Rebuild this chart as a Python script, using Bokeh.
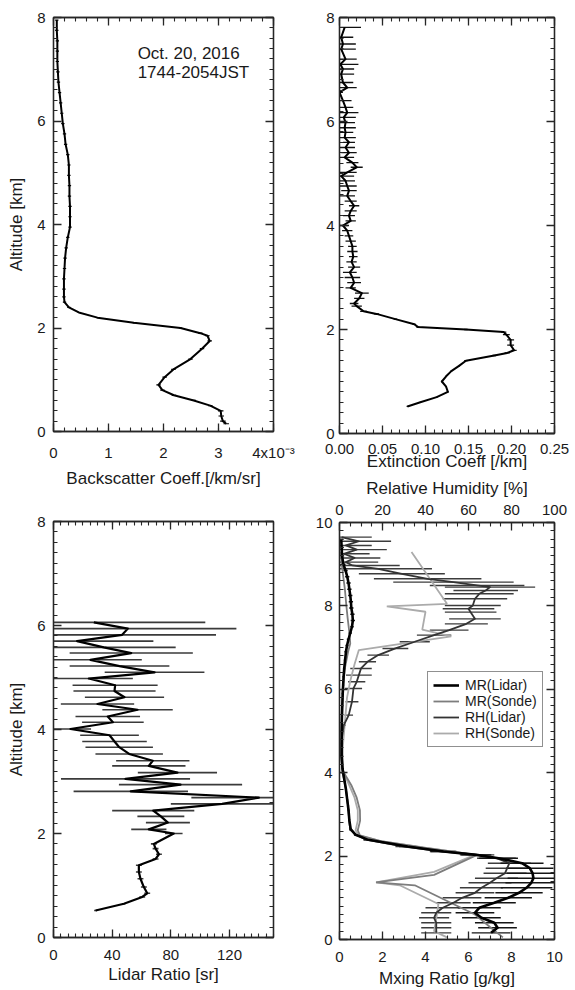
import numpy as np
from bokeh.plotting import figure
from bokeh.models import (Range1d, LinearAxis, FixedTicker, CustomJSTickFormatter,
                          CustomLabelingPolicy, Label, Legend, LegendItem,
                          ColumnDataSource)
from bokeh.layouts import row, column
from bokeh.embed import file_html
from bokeh.resources import INLINE

# ---------------- data ----------------
# Panel 1: backscatter coefficient (x 1e-3 /km/sr)
bsc_alt = [7.95, 7.75, 7.55, 7.35, 7.15, 6.95, 6.75, 6.55, 6.35, 6.15,
           5.95, 5.75, 5.55, 5.35, 5.15, 4.95, 4.75, 4.55, 4.35, 4.15,
           3.95, 3.75, 3.55, 3.35, 3.15, 2.95, 2.75, 2.6, 2.5, 2.4,
           2.3, 2.2, 2.1, 2.0, 1.9, 1.85, 1.75, 1.6, 1.4, 1.2,
           1.05, 0.9, 0.8, 0.7, 0.6, 0.5, 0.4, 0.3, 0.2, 0.15]
bsc_val = [0.06, 0.06, 0.07, 0.07, 0.07, 0.08, 0.09, 0.11, 0.13, 0.15,
           0.17, 0.20, 0.22, 0.26, 0.28, 0.28, 0.29, 0.29, 0.30, 0.30,
           0.30, 0.26, 0.23, 0.21, 0.20, 0.19, 0.19, 0.19, 0.20, 0.28,
           0.46, 0.80, 1.46, 2.31, 2.67, 2.80, 2.84, 2.70, 2.49, 2.18,
           2.02, 1.91, 1.98, 2.19, 2.55, 2.85, 3.04, 3.05, 3.08, 3.14]
bsc_err = [0.03, 0.03, 0.03, 0.03, 0.03, 0.03, 0.03, 0.03, 0.03, 0.03,
           0.03, 0.03, 0.03, 0.03, 0.03, 0.03, 0.03, 0.03, 0.03, 0.03,
           0.03, 0.03, 0.03, 0.03, 0.03, 0.03, 0.03, 0.03, 0.03, 0.03,
           0.02, 0.02, 0.02, 0.03, 0.04, 0.04, 0.04, 0.04, 0.04, 0.04,
           0.04, 0.04, 0.04, 0.04, 0.04, 0.04, 0.05, 0.05, 0.05, 0.05]

# Panel 2: extinction coefficient (/km)
ext_alt = [7.81, 7.62, 7.49, 7.39, 7.20, 7.10, 7.01, 6.91, 6.75, 6.65,
           6.56, 6.40, 6.27, 6.17, 6.08, 5.98, 5.88, 5.79, 5.69, 5.60,
           5.50, 5.40, 5.31, 5.21, 5.12, 5.02, 4.95, 4.86, 4.76, 4.67,
           4.57, 4.47, 4.38, 4.28, 4.19, 4.09, 4.00, 3.90, 3.80, 3.70,
           3.60, 3.50, 3.40, 3.30, 3.20, 3.10, 3.00, 2.90, 2.80, 2.70,
           2.60, 2.50, 2.45, 2.35, 2.30, 2.20, 2.10, 2.05, 2.00, 1.95,
           1.90, 1.80, 1.70, 1.60, 1.55, 1.50, 1.40, 1.30, 1.20, 1.10,
           1.00, 0.90, 0.80, 0.70, 0.60, 0.52]
ext_val = [0.006, 0.002, 0.004, 0.002, 0.007, 0.001, 0.004, 0.002, 0.004, 0.009,
           0.000, 0.004, 0.007, 0.009, 0.005, 0.007, 0.006, 0.007, 0.006, 0.011,
           0.007, 0.011, 0.006, 0.015, 0.020, 0.009, 0.002, 0.007, 0.009, 0.011,
           0.009, 0.013, 0.017, 0.013, 0.011, 0.013, 0.004, 0.009, 0.011, 0.013,
           0.015, 0.015, 0.016, 0.014, 0.017, 0.012, 0.015, 0.017, 0.013, 0.026,
           0.023, 0.017, 0.020, 0.028, 0.043, 0.065, 0.087, 0.091, 0.147, 0.191,
           0.194, 0.199, 0.199, 0.203, 0.195, 0.180, 0.147, 0.139, 0.130, 0.124,
           0.119, 0.124, 0.126, 0.113, 0.094, 0.079]
ext_err = [0.019, 0.014, 0.015, 0.017, 0.013, 0.021, 0.013, 0.015, 0.012, 0.011,
           0.004, 0.010, 0.009, 0.013, 0.014, 0.011, 0.013, 0.009, 0.013, 0.007,
           0.011, 0.009, 0.011, 0.007, 0.007, 0.011, 0.015, 0.011, 0.011, 0.009,
           0.009, 0.007, 0.006, 0.007, 0.007, 0.006, 0.007, 0.006, 0.005, 0.006,
           0.005, 0.006, 0.005, 0.006, 0.007, 0.008, 0.009, 0.008, 0.006, 0.008,
           0.006, 0.005, 0.006, 0.004, 0.003, 0.002, 0.002, 0.002, 0.002, 0.003,
           0.004, 0.004, 0.004, 0.003, 0.003, 0.002, 0.002, 0.001, 0.001, 0.001,
           0.001, 0.001, 0.001, 0.001, 0.001, 0.001]

# Panel 3: lidar ratio (sr)
lr_alt = [6.06, 5.94, 5.82, 5.70, 5.58, 5.47, 5.34, 5.22, 5.10, 4.98,
          4.85, 4.74, 4.62, 4.49, 4.38, 4.25, 4.14, 4.01, 3.89, 3.77,
          3.66, 3.53, 3.40, 3.30, 3.17, 3.05, 2.94, 2.81, 2.69, 2.57,
          2.44, 2.33, 2.21, 2.08, 2.00, 1.80, 1.71, 1.60, 1.51, 1.39,
          1.26, 1.13, 0.97, 0.85, 0.78, 0.65, 0.52]
lr_val = [27.5, 50.7, 46.8, 16.1, 34.3, 53.0, 25.2, 45.0, 68.9, 24.1,
          42.0, 41.6, 48.4, 30.0, 57.3, 37.0, 40.5, 11.6, 38.2, 41.6,
          44.8, 51.6, 67.7, 65.0, 84.5, 49.1, 86.6, 52.7, 140.0, 115.0,
          68.0, 73.2, 78.0, 65.0, 82.0, 68.4, 69.6, 71.9, 69.6, 58.2,
          58.2, 59.3, 61.6, 63.9, 60.5, 48.0, 28.7]
lr_err = [76, 74, 64, 52, 49, 42, 35, 34, 34, 30,
          29, 28, 27, 25, 24, 22, 21, 14, 20, 22,
          23, 23, 25, 25, 27, 44, 42, 39, 46, 35,
          28, 16, 15, 12, 6, 2, 2, 2, 2, 2,
          2, 2, 2, 2, 2, 1, 1]

# Panel 4: mixing ratio (g/kg) and relative humidity (%)
mrl_alt = [9.60, 9.40, 9.20, 9.00, 8.85, 8.70, 8.55, 8.40, 8.25, 8.10,
           7.95, 7.80, 7.65, 7.50, 7.35, 7.20, 7.05, 6.90, 6.70, 6.50,
           6.30, 6.10, 5.90, 5.60, 5.30, 5.00, 4.70, 4.40, 4.10, 3.85,
           3.60, 3.35, 3.10, 2.85, 2.65, 2.51, 2.39, 2.23, 2.11, 2.03,
           1.95, 1.83, 1.71, 1.59, 1.47, 1.36, 1.24, 1.12, 1.00, 0.88,
           0.76, 0.64, 0.52, 0.40, 0.28, 0.16]
mrl_val = [0.08, 0.10, 0.12, 0.18, 0.28, 0.36, 0.42, 0.46, 0.50, 0.53,
           0.55, 0.60, 0.62, 0.58, 0.50, 0.42, 0.35, 0.30, 0.26, 0.22,
           0.19, 0.17, 0.15, 0.13, 0.11, 0.10, 0.10, 0.10, 0.14, 0.22,
           0.30, 0.36, 0.42, 0.46, 0.52, 0.75, 1.34, 3.17, 4.84, 6.36,
           7.40, 8.49, 8.85, 8.98, 9.02, 8.92, 8.70, 8.35, 7.85, 7.20,
           6.50, 6.30, 6.60, 7.20, 7.35, 7.05]
mrl_err = [0.10, 0.10, 0.10, 0.10, 0.10, 0.10, 0.10, 0.10, 0.10, 0.10,
           0.10, 0.10, 0.10, 0.08, 0.08, 0.08, 0.07, 0.07, 0.06, 0.06,
           0.05, 0.05, 0.05, 0.04, 0.04, 0.04, 0.04, 0.04, 0.04, 0.04,
           0.04, 0.04, 0.04, 0.04, 0.05, 0.08, 0.20, 0.40, 0.60, 0.70,
           0.90, 1.00, 1.10, 1.20, 1.20, 1.20, 1.20, 1.10, 1.10, 1.00,
           1.00, 0.90, 0.90, 0.90, 0.90, 0.90]

mrs_alt = [9.30, 8.80, 8.40, 8.00, 7.70, 7.40, 7.10, 6.90, 6.50, 6.00,
           5.50, 5.00, 4.50, 4.05, 3.70, 3.40, 3.10, 2.85, 2.62, 2.50,
           2.35, 2.20, 2.03, 1.55, 1.37, 1.30, 0.90, 0.60, 0.30, 0.05]
mrs_val = [0.05, 0.15, 0.25, 0.32, 0.38, 0.45, 0.50, 0.40, 0.25, 0.15,
           0.12, 0.10, 0.10, 0.15, 0.55, 0.80, 0.95, 0.96, 0.85, 0.95,
           2.00, 3.90, 6.40, 4.40, 1.70, 3.50, 5.10, 6.30, 7.00, 7.60]

rhl_alt = [9.65, 9.55, 9.45, 9.35, 9.25, 9.15, 9.05,
           8.97, 8.89, 8.77, 8.65, 8.57, 8.49, 8.45, 8.37, 8.29, 8.17,
           8.01, 7.93, 7.85, 7.69, 7.57, 7.42, 7.30, 7.14, 6.98, 6.82,
           6.66, 6.50, 6.34, 6.18, 6.02, 5.70, 5.38, 5.14, 4.80, 4.40,
           4.00, 3.60, 3.20, 2.87, 2.63, 2.50, 2.39, 2.23, 2.11, 2.03,
           1.95, 1.83, 1.71, 1.59, 1.47, 1.36, 1.24, 1.12, 1.00, 0.88,
           0.76, 0.64, 0.52, 0.40, 0.28, 0.16]
rhl_val = [1, 9, 3, 8, 2, 7, 3,
           6, 18, 29, 41, 53, 64, 70, 68, 65, 63,
           62, 60, 61, 63, 59, 51, 44, 35, 26, 18,
           13, 10, 9, 8, 6.5, 5.8, 4.3, 2, 1, 0.8,
           1.5, 3, 4, 4.5, 5, 8, 13, 30, 48, 64,
           73, 79, 78, 77, 73, 70, 66, 63, 57, 53,
           48, 45, 44, 45, 45, 45]
rhl_err = [14, 15, 12, 14, 12, 12, 15,
           22, 25, 20, 25, 28, 22, 21, 15, 16, 15,
           13, 12, 12, 12, 10, 9, 8, 7, 6, 5,
           4, 5, 6, 4, 4, 3, 2, 1, 1, 1,
           1, 0.5, 0.5, 0.5, 0.5, 1, 2, 4, 6, 8,
           9, 10, 10, 10, 10, 10, 10, 9, 9, 8,
           8, 7, 7, 7, 7, 7]

rhs_alt = [9.29, 8.05, 7.99, 7.86, 7.43, 7.27, 6.94, 6.60, 6.20, 5.80,
           5.20, 4.60, 4.05, 3.70, 3.40, 3.10, 2.85, 2.62, 2.50, 2.35,
           2.20, 2.03, 1.62, 1.37, 1.30, 0.85, 0.50, 0.20, 0.05]
rhs_val = [33.5, 50.0, 22.0, 40.0, 38.5, 52.0, 9.0, 7.0, 5.0, 3.5,
           2.5, 1.5, 1.5, 4.5, 7.0, 8.5, 8.5, 7.5, 9.0, 20.0,
           40.0, 63.0, 44.0, 17.0, 28.0, 46.0, 45.0, 44.0, 50.0]

legend_labels = ["MR(Lidar)", "MR(Sonde)", "RH(Lidar)", "RH(Sonde)"]

# ---------------- styling helpers ----------------
FONT = "Liberation Sans"
TXT = "#1a1a1a"
AXC = "#262626"


def ticks(lo, hi, step):
    return [round(float(v), 6) for v in np.arange(lo, hi + step / 2.0, step)]


def hide_all():
    return CustomLabelingPolicy(code="for (const i of indices) indices.unset(i)")


def style(ax, major, minor, show_labels=True, fmt=None, label=None,
          lab_stand=8, ax_stand=4):
    ax.ticker = FixedTicker(ticks=major, minor_ticks=minor)
    ax.axis_line_color = AXC
    ax.axis_line_width = 1.3
    ax.major_tick_in = 8
    ax.major_tick_out = 0
    ax.minor_tick_in = 4
    ax.minor_tick_out = 0
    ax.major_tick_line_color = AXC
    ax.minor_tick_line_color = AXC
    ax.major_tick_line_width = 1.3
    ax.minor_tick_line_width = 1.1
    ax.major_label_text_font = FONT
    ax.major_label_text_color = TXT
    ax.major_label_text_font_size = "15px"
    ax.axis_label_text_font = FONT
    ax.axis_label_text_font_size = "17px"
    ax.axis_label_text_font_style = "normal"
    ax.axis_label_text_color = TXT
    if show_labels:
        ax.major_label_standoff = lab_stand
    else:
        ax.major_label_standoff = 0
        ax.major_label_policy = hide_all()
    if fmt is not None:
        ax.formatter = fmt
    if label is not None:
        ax.axis_label = label
        ax.axis_label_standoff = ax_stand


def make(w, h, xr, yr, bl, br, bt, bb):
    p = figure(width=w, height=h, x_range=Range1d(*xr), y_range=Range1d(*yr),
               output_backend="svg", toolbar_location=None,
               min_border_left=bl, min_border_right=br,
               min_border_top=bt, min_border_bottom=bb)
    p.xgrid.visible = False
    p.ygrid.visible = False
    p.outline_line_color = AXC
    p.outline_line_width = 1.3
    p.background_fill_color = "white"
    p.border_fill_color = "white"
    return p


alt_major = ticks(0, 8, 2)
alt_minor = ticks(0, 8, 0.2)
int_fmt = CustomJSTickFormatter(code="return tick.toFixed(0);")

# ---------------- Panel 1 ----------------
p1 = make(300, 490, (0, 4), (0, 8), 53, 27, 17, 490 - 17 - 417)
style(p1.xaxis[0], ticks(0, 4, 1), ticks(0, 4, 0.2),
      fmt=CustomJSTickFormatter(code="return tick > 3.5 ? '4x10\u207b\u00b3' : tick.toFixed(0);"),
      label="Backscatter Coeff.[/km/sr]", lab_stand=12, ax_stand=5)
style(p1.yaxis[0], alt_major, alt_minor, fmt=int_fmt, label="Altitude [km]",
      lab_stand=8, ax_stand=8)
t1 = LinearAxis(); p1.add_layout(t1, "above")
style(t1, ticks(0, 4, 1), ticks(0, 4, 0.2), show_labels=False)
r1 = LinearAxis(); p1.add_layout(r1, "right")
style(r1, alt_major, alt_minor, show_labels=False)

s1 = ColumnDataSource(dict(alt=bsc_alt, val=bsc_val,
                           lo=list(np.array(bsc_val) - np.array(bsc_err)),
                           hi=list(np.array(bsc_val) + np.array(bsc_err))))
p1.segment(x0="lo", x1="hi", y0="alt", y1="alt", source=s1, line_color="black", line_width=1.2)
p1.line(x="val", y="alt", source=s1, line_color="black", line_width=2, line_join="round")
p1.add_layout(Label(x=1.53, y=7.31, text="Oct. 20, 2016", text_font=FONT,
                    text_font_size="17px", text_color=TXT, text_baseline="middle"))
p1.add_layout(Label(x=1.53, y=6.93, text="1744-2054JST", text_font=FONT,
                    text_font_size="17px", text_color=TXT, text_baseline="middle"))

# ---------------- Panel 2 ----------------
P2H = 474
p2 = make(274, P2H, (0, 0.25), (0, 8), 35, 15, 17, P2H - 17 - 416)
style(p2.xaxis[0], ticks(0, 0.25, 0.05), ticks(0, 0.25, 0.01),
      fmt=CustomJSTickFormatter(code="return tick.toFixed(2);"),
      label="Extinction Coeff [/km]", lab_stand=10, ax_stand=-5)
style(p2.yaxis[0], alt_major, alt_minor, fmt=int_fmt, lab_stand=5)
t2 = LinearAxis(); p2.add_layout(t2, "above")
style(t2, ticks(0, 0.25, 0.05), ticks(0, 0.25, 0.01), show_labels=False)
r2 = LinearAxis(); p2.add_layout(r2, "right")
style(r2, alt_major, alt_minor, show_labels=False)

s2 = ColumnDataSource(dict(alt=ext_alt, val=ext_val,
                           lo=list(np.array(ext_val) - np.array(ext_err)),
                           hi=list(np.array(ext_val) + np.array(ext_err))))
p2.segment(x0="lo", x1="hi", y0="alt", y1="alt", source=s2, line_color="#111111", line_width=1.3)
p2.line(x="val", y="alt", source=s2, line_color="black", line_width=2, line_join="round")

# ---------------- Panel 3 ----------------
p3 = make(300, 498, (0, 150), (0, 8), 53, 27, 31, 498 - 31 - 416)
style(p3.xaxis[0], [0, 40, 80, 120], ticks(0, 150, 5),
      label="Lidar Ratio [sr]", lab_stand=12, ax_stand=2)
style(p3.yaxis[0], alt_major, alt_minor, fmt=int_fmt, label="Altitude [km]",
      lab_stand=8, ax_stand=8)
t3 = LinearAxis(); p3.add_layout(t3, "above")
style(t3, [0, 40, 80, 120], ticks(0, 150, 5), show_labels=False)
r3 = LinearAxis(); p3.add_layout(r3, "right")
style(r3, alt_major, alt_minor, show_labels=False)

s3 = ColumnDataSource(dict(alt=lr_alt, val=lr_val,
                           lo=list(np.array(lr_val) - np.array(lr_err)),
                           hi=list(np.array(lr_val) + np.array(lr_err))))
p3.segment(x0="lo", x1="hi", y0="alt", y1="alt", source=s3, line_color="#3a3a3a", line_width=1.6)
p3.line(x="val", y="alt", source=s3, line_color="black", line_width=2.2, line_join="round")

# ---------------- Panel 4 ----------------
P4H = 990 - P2H
P4T = 522 - P2H
p4 = make(274, P4H, (0, 10), (0, 10), 39, 15, P4T, P4H - P4T - 417)
p4.extra_x_ranges = {"rh": Range1d(0, 100)}
style(p4.xaxis[0], ticks(0, 10, 2), ticks(0, 10, 0.5), label="Mxing Ratio [g/kg]",
      lab_stand=12, ax_stand=4)
style(p4.yaxis[0], ticks(0, 10, 2), ticks(0, 10, 0.2), fmt=int_fmt, lab_stand=7)
t4 = LinearAxis(x_range_name="rh"); p4.add_layout(t4, "above")
style(t4, ticks(0, 100, 20), ticks(0, 100, 5), label="Relative Humidity [%]",
      lab_stand=8, ax_stand=4)
r4 = LinearAxis(); p4.add_layout(r4, "right")
style(r4, ticks(0, 10, 2), ticks(0, 10, 0.2), show_labels=False)

s_mrl = ColumnDataSource(dict(alt=mrl_alt, val=mrl_val,
                              lo=list(np.array(mrl_val) - np.array(mrl_err)),
                              hi=list(np.array(mrl_val) + np.array(mrl_err))))
s_rhl = ColumnDataSource(dict(alt=rhl_alt, val=rhl_val,
                              lo=list(np.array(rhl_val) - np.array(rhl_err)),
                              hi=list(np.array(rhl_val) + np.array(rhl_err))))
s_mrs = ColumnDataSource(dict(alt=mrs_alt, val=mrs_val))
s_rhs = ColumnDataSource(dict(alt=rhs_alt, val=rhs_val))

p4.segment(x0="lo", x1="hi", y0="alt", y1="alt", source=s_rhl, x_range_name="rh",
           line_color="#3c3c3c", line_width=1.4)
p4.segment(x0="lo", x1="hi", y0="alt", y1="alt", source=s_mrl,
           line_color="#151515", line_width=1.4)
r_rhs = p4.line(x="val", y="alt", source=s_rhs, x_range_name="rh",
                line_color="#ababab", line_width=1.8)
r_mrs = p4.line(x="val", y="alt", source=s_mrs, line_color="#7d7d7d", line_width=1.8)
r_rhl = p4.line(x="val", y="alt", source=s_rhl, x_range_name="rh",
                line_color="#333333", line_width=1.8, line_join="round")
r_mrl = p4.line(x="val", y="alt", source=s_mrl, line_color="black", line_width=2.6,
                line_join="round")

legend = Legend(items=[LegendItem(label=legend_labels[0], renderers=[r_mrl]),
                       LegendItem(label=legend_labels[1], renderers=[r_mrs]),
                       LegendItem(label=legend_labels[2], renderers=[r_rhl]),
                       LegendItem(label=legend_labels[3], renderers=[r_rhs])],
                location=(88, 192))
legend.border_line_color = "#222222"
legend.border_line_width = 1.3
legend.background_fill_color = "white"
legend.background_fill_alpha = 1.0
legend.label_text_font = FONT
legend.label_text_font_size = "14px"
legend.label_text_color = TXT
legend.glyph_width = 26
legend.glyph_height = 14
legend.label_height = 14
legend.label_standoff = 6
legend.spacing = 0
legend.padding = 5
legend.margin = 0
p4.add_layout(legend)

layout = row(column(p1, p3), column(p2, p4))
open("out.html", "w").write(file_html(layout, INLINE, title="Lidar profiles"))
